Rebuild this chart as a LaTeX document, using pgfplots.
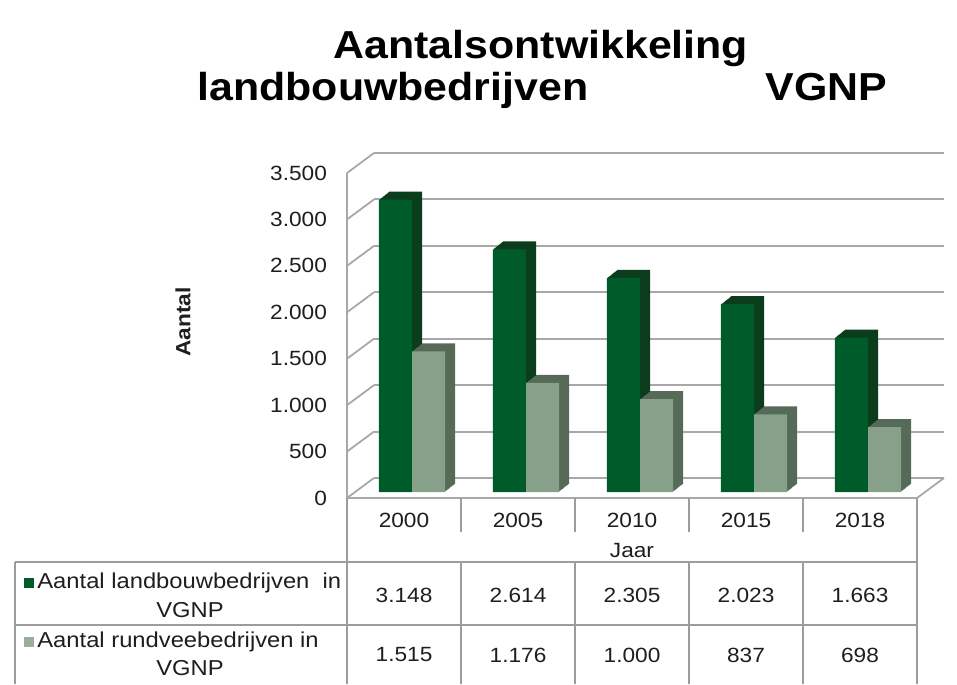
\documentclass[border=0pt]{standalone}
\usepackage{pgfplots}
\pgfplotsset{compat=1.18}
\usepackage{pgfplotstable}
\usepackage{fontspec}
\setmainfont{Liberation Sans}[FakeStretch=1.1]

\definecolor{dfront}{HTML}{005B2B}
\definecolor{dside}{HTML}{0B3D1D}
\definecolor{lfront}{HTML}{87A08A}
\definecolor{lside}{HTML}{566A58}
\definecolor{gridc}{HTML}{A8A8A8}
\definecolor{tabc}{HTML}{9C9C9C}
\definecolor{txt}{HTML}{1E1E1E}

\pgfplotstableread{
x a b
0 3148 1515
1 2614 1176
2 2305 1000
3 2023 837
4 1663 698
}\data

\begin{document}
\begin{tikzpicture}
\begin{scope}[x=0.5pt,y=-0.5pt]
\path (0,0) rectangle (957,684);
\coordinate (O) at (347,498);
\end{scope}
\begin{axis}[
  at={(O)}, anchor=south west,
  scale only axis, width=285pt, height=162.5pt,
  xmin=-0.5, xmax=4.5, ymin=0, ymax=3500,
  clip=false,
  axis line style={draw=none},
  tick style={draw=none},
  ytick={0,500,...,3500},
  xtick={0,...,4},
  xticklabels={2000,2005,2010,2015,2018},
  xticklabel style={anchor=center, yshift=-11pt, text=txt},
  yticklabel style={xshift=-6.5pt, text=txt},
  scaled y ticks=false,
  /pgf/number format/1000 sep={.},
  /pgf/number format/assume math mode=true,
  tick label style={font=\fontsize{10.3}{12}\selectfont},
]
\pgfplotsinvokeforeach{0,500,...,3500}{
  \draw[gridc, line width=1pt] ([shift={(13.5pt,10pt)}]axis cs:-0.5,#1) -- ([shift={(13.5pt,10pt)}]axis cs:4.5,#1);
  \draw[gridc, line width=0.9pt] (axis cs:-0.5,#1) -- ([shift={(13.5pt,10pt)}]axis cs:-0.5,#1);
}
\draw[gridc, line width=0.9pt] (axis cs:-0.5,3500) -- (axis cs:-0.5,0) -- (axis cs:4.5,0) -- ([shift={(13.5pt,10pt)}]axis cs:4.5,0);

\pgfplotsinvokeforeach{10,9,...,1}{
  \addplot[ybar, bar width=0.29, bar shift=-0.145, fill=dside, draw=none,
    xshift={4pt+#1*0.5pt}, yshift={3pt+#1*0.4pt}] table[x=x,y=a]{\data};
}
\addplot[ybar, bar width=0.29, bar shift=-0.145, fill=dfront, draw=none,
    xshift=4pt, yshift=3pt] table[x=x,y=a]{\data};
\pgfplotsinvokeforeach{10,9,...,1}{
  \addplot[ybar, bar width=0.29, bar shift=0.145, fill=lside, draw=none,
    xshift={4pt+#1*0.5pt}, yshift={3pt+#1*0.4pt}] table[x=x,y=b]{\data};
}
\addplot[ybar, bar width=0.29, bar shift=0.145, fill=lfront, draw=none,
    xshift=4pt, yshift=3pt] table[x=x,y=b]{\data};
\end{axis}

\begin{scope}[x=0.5pt,y=-0.5pt]
% title
\node[anchor=base west, inner sep=0, font=\fontsize{19.5}{22}\selectfont\bfseries] at (333,59) {Aantalsontwikkeling};
\node[anchor=base west, inner sep=0, font=\fontsize{19.5}{22}\selectfont\bfseries] at (197,100) {landbouwbedrijven};
\node[anchor=base west, inner sep=0, font=\fontsize{19.5}{22}\selectfont\bfseries] at (765,100) {VGNP};
% y label
\node[rotate=90, font=\fontsize{10.3}{12}\selectfont\bfseries, text=txt] at (183,322) {Aantal};
% table lines
\begin{scope}[draw=tabc, line width=0.8pt]
\draw (347,498) -- (347,684);
\draw (917,498) -- (917,684);
\foreach \x in {461,575,689,803} { \draw (\x,498) -- (\x,532); \draw (\x,562) -- (\x,684); }
\draw (15,562) -- (917,562);
\draw (15,625) -- (917,625);
\draw (15,562) -- (15,684);
\end{scope}
\begin{scope}[font=\fontsize{10.3}{12}\selectfont, text=txt]
\node at (632,551) {Jaar};
\foreach \v [count=\i from 0] in {3.148,2.614,2.305,2.023,1.663} \node at (404+114*\i,595) {\v};
\foreach \v [count=\i from 0] in {1.515,1.176,1.000,837,698} \node at (404+114*\i,655) {\v};
\end{scope}
\begin{scope}[font=\fontsize{10.8}{12}\selectfont, text=txt]
\fill[dfront] (24,578) rectangle (34,588);
\node[anchor=base west, inner sep=0] at (37,588) {Aantal landbouwbedrijven\ \ in};
\node[anchor=base, inner sep=0] at (190,617) {VGNP};
\fill[lfront!85!white] (24,637) rectangle (34,647);
\node[anchor=base west, inner sep=0] at (37,647) {Aantal rundveebedrijven in};
\node[anchor=base, inner sep=0] at (190,675) {VGNP};
\end{scope}
\end{scope}
\end{tikzpicture}
\end{document}
